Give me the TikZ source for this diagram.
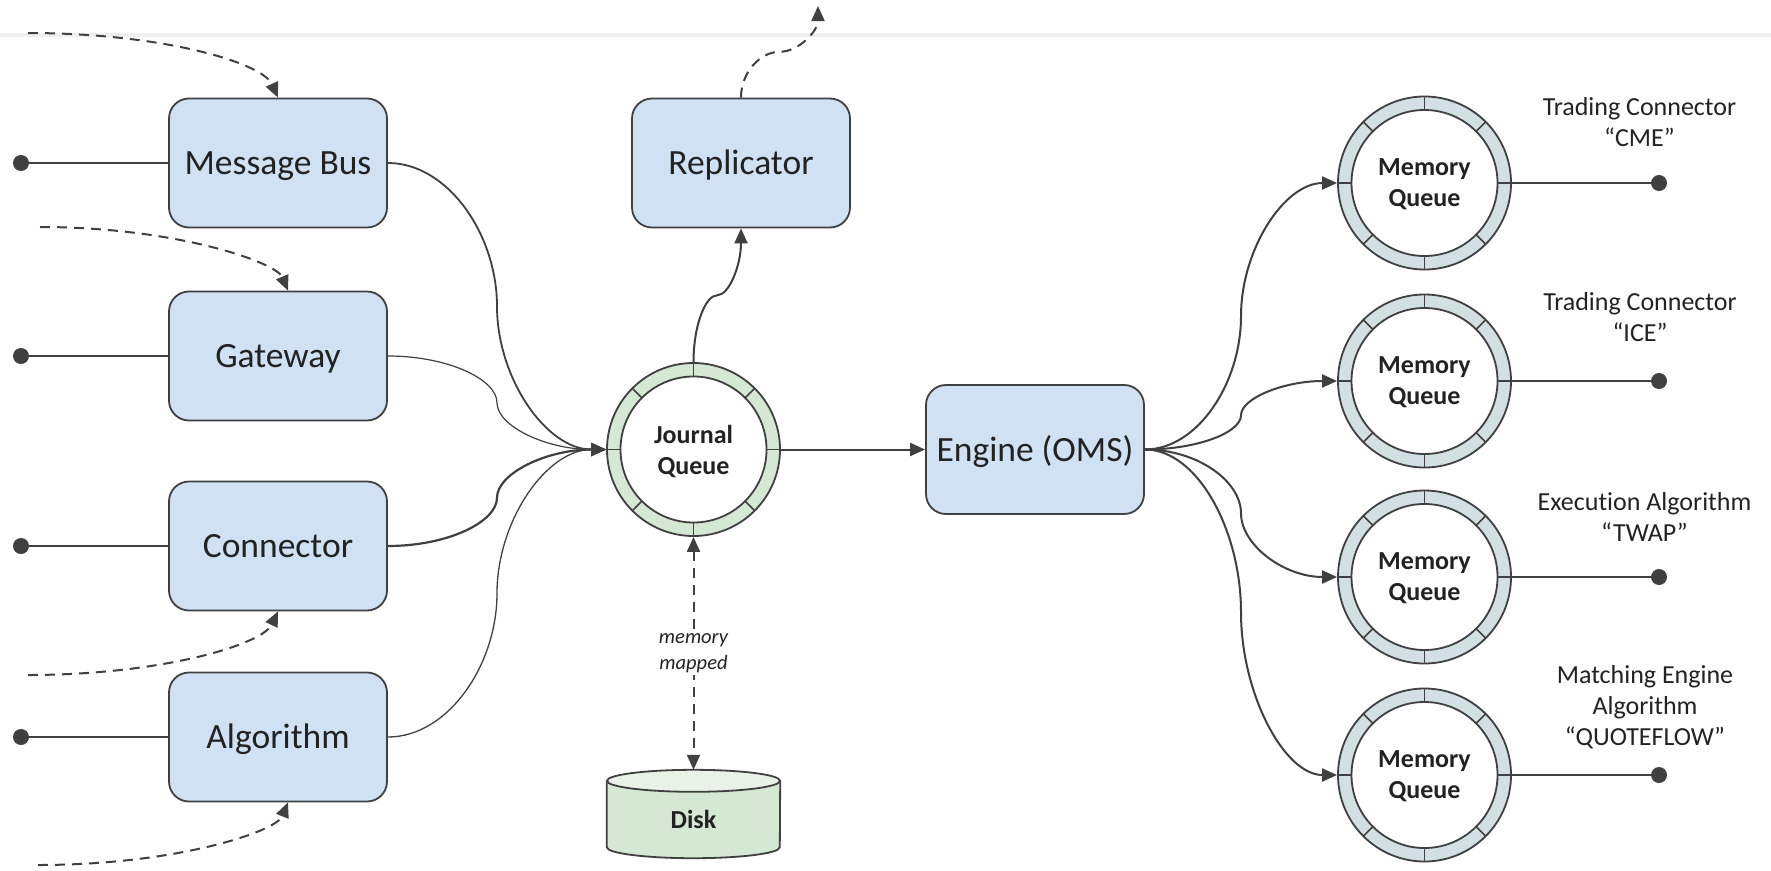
\documentclass[tikz,border=0pt]{standalone}
\usepackage{fontspec}
\setmainfont{Carlito}[Ligatures=NoCommon]
\usetikzlibrary{arrows.meta,calc,backgrounds}

\definecolor{ink}{HTML}{404040}
\definecolor{txt}{HTML}{222222}
\definecolor{boxblue}{HTML}{CFE1F3}
\definecolor{ringgreen}{HTML}{D5E8D4}
\definecolor{disktop}{HTML}{E8F2E6}
\definecolor{ringgrey}{HTML}{D2DFE3}
\definecolor{rulegrey}{HTML}{EFEFEF}

\tikzset{
  >={Triangle[length=15pt,width=13pt]},
  wireline/.style={draw=ink, line width=2pt},
  flow/.style={wireline, ->},
  dashflow/.style={draw=ink, line width=2pt, dash pattern=on 10pt off 7pt},
  svcbox/.style={draw=ink, line width=1.8pt, fill=boxblue, rounded corners=20pt,
    minimum width=218pt, minimum height=129pt, inner sep=0pt, text=txt,
    text height=23pt, text depth=0pt,
    font=\fontsize{35.5}{42}\selectfont},
  ringq/.style={circle, draw=ink, line width=1.8pt, minimum size=173pt, inner sep=0pt,
    align=center, text=txt, text depth=0pt, font=\fontsize{26}{31}\selectfont\bfseries,
    path picture={
      \draw[draw=ink, line width=1.8pt, fill=white]
        (path picture bounding box.center) circle[radius=73pt];
      \foreach \a in {0,45,...,315}
        \draw[draw=ink, line width=1.5pt]
          ($(path picture bounding box.center)+(\a:73pt)$) --
          ($(path picture bounding box.center)+(\a:88pt)$);
    }},
  journalq/.style={ringq, fill=ringgreen},
  memq/.style={ringq, fill=ringgrey},
  portdot/.style={circle, fill=ink, minimum size=16pt, inner sep=0pt},
  sidetag/.style={align=center, text=txt, font=\fontsize{26}{31}\selectfont},
  diskbox/.style={minimum width=173pt, minimum height=88pt, inner sep=0pt, text=txt,
    text height=29pt, text depth=0pt,
    font=\fontsize{26}{31}\selectfont\bfseries},
  % S-shaped link: leaves and enters horizontally, vertical in the middle
  hcurve/.style={to path={
    let \p1=(\tikztostart), \p2=(\tikztotarget), \p3=($(\p1)!0.5!(\p2)$) in
    .. controls ($(\x1,\y1)!0.55!(\x3,\y1)$) and ($(\x3,\y3)!0.5!(\x3,\y1)$) .. (\p3)
    .. controls ($(\x3,\y3)!0.5!(\x3,\y2)$) and ($(\x2,\y2)!0.55!(\x3,\y2)$) .. (\p2)
    \tikztonodes}},
  % S-shaped link: leaves and enters vertically, horizontal in the middle
  vcurve/.style={to path={
    let \p1=(\tikztostart), \p2=(\tikztotarget), \p3=($(\p1)!0.5!(\p2)$) in
    .. controls ($(\x1,\y1)!0.55!(\x1,\y3)$) and ($(\x3,\y3)!0.5!(\x1,\y3)$) .. (\p3)
    .. controls ($(\x3,\y3)!0.5!(\x2,\y3)$) and ($(\x2,\y2)!0.55!(\x2,\y3)$) .. (\p2)
    \tikztonodes}},
}

\begin{document}
\begin{tikzpicture}[x=1pt, y=-1pt]
\useasboundingbox (0,0) rectangle (1771,870);
\begin{scope}[on background layer]
  \fill[white] (0,0) rectangle (1771,870);
  \draw[rulegrey, line width=4pt] (0,35) -- (1771,35);
\end{scope}

% producers
\node[svcbox] (mb)   at (278,163) {Message Bus};
\node[svcbox] (gw)   at (278,356) {Gateway};
\node[svcbox] (conn) at (278,546) {Connector};
\node[svcbox] (algo) at (278,737) {Algorithm};

\node[portdot] (pmb)   at (21,163) {};
\node[portdot] (pgw)   at (21,356) {};
\node[portdot] (pconn) at (21,546) {};
\node[portdot] (palgo) at (21,737) {};
\draw[wireline] (pmb) -- (mb.west);
\draw[wireline] (pgw) -- (gw.west);
\draw[wireline] (pconn) -- (conn.west);
\draw[wireline] (palgo) -- (algo.west);

% external inputs
\coordinate (in1) at (28,33);
\coordinate (in2) at (40,227);
\coordinate (in3) at (28,675);
\coordinate (in4) at (38,865);
\draw[dashflow, ->] (in1) .. controls (160,33) and (262,62) .. (mb.north);
\draw[dashflow, ->] (in2) .. controls (175,227) and (276,262) .. ([xshift=10pt]gw.north);
\draw[dashflow, ->] (in3) .. controls (160,675) and (262,645) .. (conn.south);
\draw[dashflow, ->] (in4) .. controls (175,865) and (276,832) .. ([xshift=10pt]algo.south);

% journal, replicator, disk, engine
\node[journalq] (jq) at (693.5,449.5) {Journal\\Queue};
\node[svcbox] (rep) at (741,163) {Replicator};
\node[svcbox] (eng) at (1035,449.5) {Engine (OMS)};
\node[diskbox] (disk) at (693.5,814) {Disk};
\begin{scope}[on background layer]
  \draw[draw=ink, line width=1.8pt, fill=ringgreen]
    ([yshift=-11pt]disk.north west) -- ([yshift=11pt]disk.south west)
    arc[start angle=180, end angle=360, x radius=86.5pt, y radius=11pt]
    -- ([yshift=-11pt]disk.north east);
  \draw[draw=ink, line width=1.8pt, fill=disktop]
    ([yshift=-11pt]disk.north) ellipse[x radius=86.5pt, y radius=11pt];
\end{scope}

\draw[flow, line width=1.8pt] (mb.east) to[hcurve] (jq.west);
\draw[flow, line width=1.2pt] (gw.east) to[hcurve] (jq.west);
\draw[flow, line width=2.2pt] (conn.east) to[hcurve] (jq.west);
\draw[flow, line width=1.3pt] (algo.east) to[hcurve] (jq.west);

\draw[flow] (jq.north) to[vcurve] (rep.south);
\coordinate (repout) at (818,6);
\draw[dashflow, ->] (rep.north) to[vcurve] (repout);

\draw[dashflow, <->] (jq.south) -- node[fill=white, inner sep=2pt, align=center, text=txt,
  font=\fontsize{20.5}{26}\selectfont\itshape] (mmlbl) {memory\\mapped} (disk.north);

\draw[flow] (jq.east) -- (eng.west);

% consumers
\node[memq] (mq1) at (1424.5,183) {Memory\\Queue};
\node[memq] (mq2) at (1424.5,381) {Memory\\Queue};
\node[memq] (mq3) at (1424.5,577) {Memory\\Queue};
\node[memq] (mq4) at (1424.5,775) {Memory\\Queue};

\foreach \q in {mq1,mq2,mq3,mq4}
  \draw[flow] (eng.east) to[hcurve] (\q.west);

\node[portdot] (pmq1) at (1659,183) {};
\node[portdot] (pmq2) at (1659,381) {};
\node[portdot] (pmq3) at (1659,577) {};
\node[portdot] (pmq4) at (1659,775) {};
\draw[wireline] (mq1.east) -- (pmq1);
\draw[wireline] (mq2.east) -- (pmq2);
\draw[wireline] (mq3.east) -- (pmq3);
\draw[wireline] (mq4.east) -- (pmq4);

\node[sidetag] (t1) at (1639.5,122) {Trading Connector\\“CME”};
\node[sidetag] (t2) at (1640,317) {Trading Connector\\“ICE”};
\node[sidetag] (t3) at (1644.5,517) {Execution Algorithm\\“TWAP”};
\node[sidetag] (t4) at (1645,707) {Matching Engine\\Algorithm\\“QUOTEFLOW”};
\end{tikzpicture}
\end{document}
